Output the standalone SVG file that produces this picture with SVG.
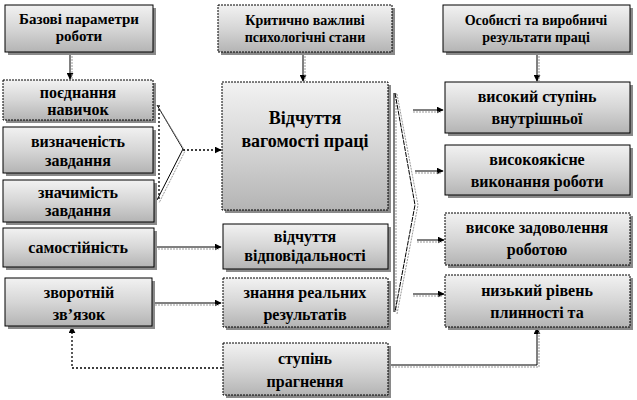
<svg xmlns="http://www.w3.org/2000/svg" width="637" height="400" viewBox="0 0 637 400">
<defs>
<linearGradient id="g" x1="0" y1="0" x2="0" y2="1">
<stop offset="0" stop-color="#f2f2f2"/>
<stop offset="0.5" stop-color="#d6d6d6"/>
<stop offset="1" stop-color="#b4b4b4"/>
</linearGradient>
<marker id="ah" viewBox="0 0 10 10" refX="9" refY="5" markerWidth="7" markerHeight="7" orient="auto" markerUnits="userSpaceOnUse">
<path d="M0,0 L10,5 L0,10 z" fill="#000"/>
</marker>
<style>
.box{fill:url(#g);stroke:#000;stroke-width:1}
.dbox{fill:url(#g);stroke:#000;stroke-width:1;stroke-dasharray:2 1}
.sh{fill:#8a8a8a}
text{font-family:Liberation Serif, DejaVu Serif, serif;font-weight:700;font-size:16px;fill:#000;text-anchor:middle}
.h{font-size:14px}
.b{font-size:18px}
.c{fill:none;stroke:#000;stroke-width:1}
.cd{fill:none;stroke:#000;stroke-width:1.3;stroke-dasharray:2 2}
.ga{fill:none;stroke:#999;stroke-width:1;stroke-dasharray:2 1}
</style>
</defs>
<rect width="637" height="400" fill="#fff"/>

<g id="connectors">
<line class="c" x1="70" y1="52" x2="70" y2="79" marker-end="url(#ah)"/>
<line class="ga" x1="72" y1="53" x2="72" y2="79"/>
<line class="c" x1="303" y1="52" x2="303" y2="81" marker-end="url(#ah)"/>
<line class="ga" x1="305" y1="53" x2="305" y2="81"/>
<line class="c" x1="537" y1="52" x2="537" y2="81" marker-end="url(#ah)"/>
<line class="ga" x1="539" y1="53" x2="539" y2="81"/>
<polyline class="c" points="157,105 183,149 157,200"/>
<polyline class="ga" points="159,108 185,151 159,203"/>
<line class="cd" x1="159" y1="105" x2="159" y2="200"/>
<line class="cd" x1="183" y1="150" x2="221" y2="150" marker-end="url(#ah)"/>
<line class="c" x1="155" y1="247" x2="221" y2="247" marker-end="url(#ah)"/>
<line class="ga" x1="155" y1="249" x2="219" y2="249"/>
<line class="c" x1="155" y1="303" x2="221" y2="303" marker-end="url(#ah)"/>
<line class="ga" x1="155" y1="305" x2="219" y2="305"/>
<polyline class="cd" points="222,368 72,368 72,327" marker-end="url(#ah)"/>
<line class="c" x1="394" y1="93" x2="394" y2="312"/>
<line class="ga" x1="396" y1="93" x2="396" y2="312"/>
<polyline class="c" points="395,93 415,205 395,312" stroke-dasharray="5 1"/>
<polyline class="ga" points="397,94 418,205 397,314"/>
<line class="c" x1="413" y1="110" x2="443" y2="110" marker-end="url(#ah)"/>
<line class="ga" x1="413" y1="112" x2="441" y2="112"/>
<line class="c" x1="415" y1="171" x2="443" y2="171" marker-end="url(#ah)"/>
<line class="ga" x1="415" y1="173" x2="441" y2="173"/>
<line class="c" x1="417" y1="240" x2="444" y2="240" marker-end="url(#ah)"/>
<line class="ga" x1="417" y1="242" x2="442" y2="242"/>
<line class="c" x1="413" y1="294" x2="444" y2="294" marker-end="url(#ah)"/>
<line class="ga" x1="413" y1="296" x2="442" y2="296"/>
<polyline class="c" points="389,365 537,365 537,328" marker-end="url(#ah)"/>
<polyline class="ga" points="389,367 539,367 539,330"/>
</g>

<g id="n-base">
<rect class="sh" x="8" y="8" width="148" height="47"/>
<rect class="box" x="5" y="5" width="148" height="47"/>
<text x="79" y="24" style="font-size:15px">Базові параметри</text>
<text x="79" y="41" style="font-size:15px">роботи</text>
</g>
<g id="n-crit">
<rect class="sh" x="221" y="8" width="174" height="47"/>
<rect class="dbox" x="218" y="5" width="174" height="47"/>
<text class="h" x="305" y="25">Критично важливі</text>
<text class="h" x="305" y="42">психологічні стани</text>
</g>
<g id="n-res">
<rect class="sh" x="446" y="8" width="187" height="47"/>
<rect class="box" x="443" y="5" width="187" height="47"/>
<text class="h" x="536" y="25">Особисті та виробничі</text>
<text class="h" x="536" y="42">результати праці</text>
</g>

<g id="n-skills">
<rect class="sh" x="6" y="83" width="150" height="40"/>
<rect class="dbox" x="3" y="80" width="150" height="40"/>
<text x="78" y="98">поєднання</text>
<text x="78" y="115">навичок</text>
</g>
<g id="n-ident">
<rect class="sh" x="6" y="130" width="150" height="46"/>
<rect class="box" x="3" y="127" width="150" height="46"/>
<text x="78" y="147">визначеність</text>
<text x="78" y="166">завдання</text>
</g>
<g id="n-signif">
<rect class="sh" x="6" y="183" width="151" height="42"/>
<rect class="box" x="3" y="180" width="151" height="42"/>
<text x="78" y="198">значимість</text>
<text x="78" y="216">завдання</text>
</g>
<g id="n-auto">
<rect class="sh" x="6" y="231" width="151" height="39"/>
<rect class="box" x="3" y="228" width="151" height="39"/>
<text x="78" y="253">самостійність</text>
</g>
<g id="n-feedback">
<rect class="sh" x="8" y="281" width="147" height="48"/>
<rect class="box" x="5" y="278" width="147" height="48"/>
<text x="79" y="298">зворотній</text>
<text x="79" y="320">зв’язок</text>
</g>

<g id="n-mean">
<rect class="sh" x="225" y="85" width="166" height="128"/>
<rect class="dbox" x="222" y="82" width="166" height="128"/>
<text class="b" x="305" y="124">Відчуття</text>
<text class="b" x="305" y="147">вагомості праці</text>
</g>
<g id="n-resp">
<rect class="sh" x="226" y="227" width="165" height="45"/>
<rect class="box" x="223" y="224" width="165" height="45"/>
<text x="305" y="242">відчуття</text>
<text x="305" y="261">відповідальності</text>
</g>
<g id="n-know">
<rect class="sh" x="226" y="281" width="165" height="49"/>
<rect class="dbox" x="223" y="278" width="165" height="49"/>
<text x="305" y="298">знання реальних</text>
<text x="305" y="320">результатів</text>
</g>
<g id="n-drive">
<rect class="sh" x="226" y="346" width="165" height="52"/>
<rect class="dbox" x="223" y="343" width="165" height="52"/>
<text x="305" y="364">ступінь</text>
<text x="305" y="387">прагнення</text>
</g>

<g id="n-motiv">
<rect class="sh" x="448" y="85" width="185" height="51"/>
<rect class="box" x="445" y="82" width="185" height="51"/>
<text x="537" y="102">високий ступінь</text>
<text x="537" y="124">внутрішньої</text>
</g>
<g id="n-perf">
<rect class="sh" x="448" y="148" width="185" height="50"/>
<rect class="box" x="445" y="145" width="185" height="50"/>
<text x="537" y="165">високоякісне</text>
<text x="537" y="187">виконання роботи</text>
</g>
<g id="n-sat">
<rect class="sh" x="448" y="216" width="185" height="52"/>
<rect class="dbox" x="445" y="213" width="185" height="52"/>
<text x="537" y="233">високе задоволення</text>
<text x="537" y="255">роботою</text>
</g>
<g id="n-turn">
<rect class="sh" x="448" y="278" width="185" height="52"/>
<rect class="dbox" x="445" y="275" width="185" height="52"/>
<text x="537" y="296">низький рівень</text>
<text x="537" y="318">плинності та</text>
</g>
</svg>
